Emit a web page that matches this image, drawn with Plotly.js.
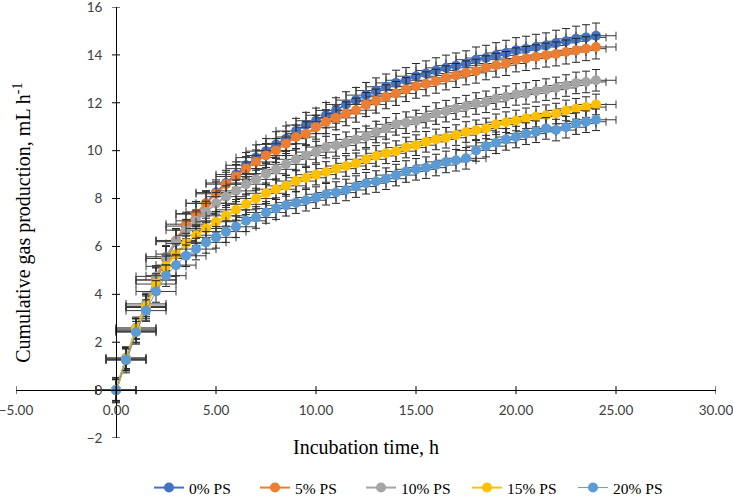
<!DOCTYPE html>
<html>
<head>
<meta charset="utf-8">
<script src="https://cdn.plot.ly/plotly-3.0.1.min.js"></script>
<style>html,body{margin:0;padding:0;background:#fff;}#chart{width:733px;height:501px;}</style>
</head>
<body>
<div id="chart"></div>
<script>
// Incubation time points (h)
const time = [0,0.5,1,1.5,2,2.5,3,3.5,4,4.5,5,5.5,6,6.5,7,7.5,8,8.5,9,9.5,10,10.5,11,11.5,12,12.5,13,13.5,14,14.5,15,15.5,16,16.5,17,17.5,18,18.5,19,19.5,20,20.5,21,21.5,22,22.5,23,23.5,24];

// Series names
const seriesNames = ["0% PS","5% PS","10% PS","15% PS","20% PS"];

// Cumulative gas production (mL h-1)
const ps0 = [0,1.25,2.45,3.45,4.6,5.5,6.2,6.85,7.35,7.8,8.25,8.65,9.0,9.39,9.71,9.98,10.26,10.5,10.82,11.07,11.25,11.48,11.68,11.93,12.11,12.32,12.51,12.67,12.83,12.94,13.11,13.22,13.35,13.46,13.55,13.64,13.8,13.87,13.98,14.08,14.19,14.25,14.33,14.39,14.5,14.57,14.67,14.73,14.8];
const ps5 = [0,1.3,2.5,3.5,4.6,5.5,6.25,6.93,7.37,7.8,8.2,8.6,8.92,9.25,9.53,9.8,10.01,10.29,10.57,10.71,10.98,11.21,11.37,11.54,11.69,11.93,12.07,12.25,12.39,12.55,12.69,12.79,12.9,13.04,13.14,13.25,13.32,13.46,13.57,13.64,13.79,13.85,13.92,13.99,14.04,14.12,14.19,14.26,14.33];
const ps10 = [0,1.35,2.6,3.6,4.75,5.57,6.23,6.68,7.07,7.44,7.8,8.08,8.32,8.6,8.8,9.04,9.22,9.43,9.64,9.8,9.94,10.15,10.22,10.33,10.47,10.58,10.78,10.93,11.1,11.17,11.24,11.4,11.55,11.65,11.76,11.86,11.97,12.04,12.18,12.25,12.35,12.39,12.48,12.55,12.62,12.72,12.83,12.87,12.94];
const ps15 = [0,1.3,2.55,3.5,4.43,5.17,5.68,6.12,6.47,6.75,7.03,7.28,7.53,7.76,8.0,8.22,8.39,8.53,8.73,8.87,9.0,9.11,9.25,9.36,9.47,9.64,9.78,9.89,9.98,10.13,10.23,10.37,10.47,10.54,10.65,10.78,10.85,10.93,11.1,11.19,11.26,11.35,11.42,11.48,11.55,11.68,11.75,11.82,11.93];
const ps20 = [0,1.27,2.42,3.32,4.12,4.78,5.22,5.61,5.89,6.17,6.38,6.62,6.82,7.07,7.21,7.42,7.58,7.72,7.83,7.93,8.04,8.18,8.25,8.36,8.5,8.64,8.71,8.83,8.98,9.13,9.22,9.29,9.4,9.53,9.6,9.68,10.01,10.19,10.33,10.47,10.57,10.71,10.79,10.93,10.86,10.98,11.13,11.21,11.29];

// Error bar magnitudes (vertical per series, horizontal in h)
const errY = [0.53,0.5,0.45,0.43,0.45];
const errX = [1,1,1,1,1];

// Axis ticks
const xTicks = [-5,0,5,10,15,20,25,30];
const yTicks = [-2,0,2,4,6,8,10,12,14,16];

const colors = ["#4472C4","#ED7D31","#A5A5A5","#FFC000","#5B9BD5"];
const lineWidths = [2,2,2,2,1];
const ys = [ps0,ps5,ps10,ps15,ps20];

const traces = ys.map((y,i)=>({
  type:"scatter", mode:"lines+markers", name:seriesNames[i],
  x:time, y:y,
  line:{color:colors[i], width:lineWidths[i]},
  marker:{color:colors[i], size:10},
  error_y:{type:"constant", value:errY[i], color:"#262626", thickness:1, width:4},
  error_x:{type:"constant", value:errX[i], color:"#3a3a3a", thickness:1, width:4},
  hoverinfo:"x+y"
}));

const shapes = [];
xTicks.forEach(v=>shapes.push({type:"line", xref:"x", yref:"y", ysizemode:"pixel", yanchor:0, x0:v, x1:v, y0:-4, y1:4, line:{color:"#000", width:1}}));
yTicks.forEach(v=>shapes.push({type:"line", xref:"x", yref:"y", xsizemode:"pixel", xanchor:0, y0:v, y1:v, x0:-4, x1:4, line:{color:"#000", width:1}}));

const layout = {
  width:733, height:501,
  margin:{l:16, r:17, t:7, b:63, autoexpand:false},
  paper_bgcolor:"#fff", plot_bgcolor:"#fff",
  showlegend:true,
  xaxis:{range:[-5,30], tickvals:xTicks, tickformat:".2f", showgrid:false, zeroline:false,
    showline:true, linecolor:"#000", linewidth:1, ticks:"", anchor:"free", position:2/18,
    ticklabelstandoff:8, ticklabeloverflow:"allow", automargin:false,
    tickfont:{family:"Lato, Carlito, sans-serif", size:13.5, color:"#404040"}},
  yaxis:{range:[-2,16], tickvals:yTicks, showgrid:false, zeroline:false,
    showline:true, linecolor:"#000", linewidth:1, ticks:"", anchor:"free", position:5/35,
    ticklabelstandoff:11, ticklabeloverflow:"allow", automargin:false,
    tickfont:{family:"Lato, Carlito, sans-serif", size:13.5, color:"#404040"}},
  shapes:shapes,
  annotations:[
    {text:"Incubation time, h", xref:"paper", yref:"paper", x:0.5, y:-0.021, xanchor:"center", yanchor:"middle",
     showarrow:false, font:{family:"Liberation Serif, Times New Roman, serif", size:20, color:"#000"}},
    {text:"Cumulative gas production, mL h<sup>-1</sup>", xref:"paper", yref:"paper", x:0.009, y:0.5, xanchor:"center", yanchor:"middle",
     textangle:-90, showarrow:false, font:{family:"Liberation Serif, Times New Roman, serif", size:20, color:"#000"}}
  ],
  legend:{orientation:"h", x:0.19, xanchor:"left", y:-0.116, yanchor:"middle",
    entrywidth:61, entrywidthmode:"pixels",
    font:{family:"Liberation Serif, Times New Roman, serif", size:15.5, color:"#000"},
    bgcolor:"rgba(0,0,0,0)", itemclick:false}
};

Plotly.newPlot("chart", traces, layout, {displayModeBar:false, staticPlot:true});
</script>
</body>
</html>
